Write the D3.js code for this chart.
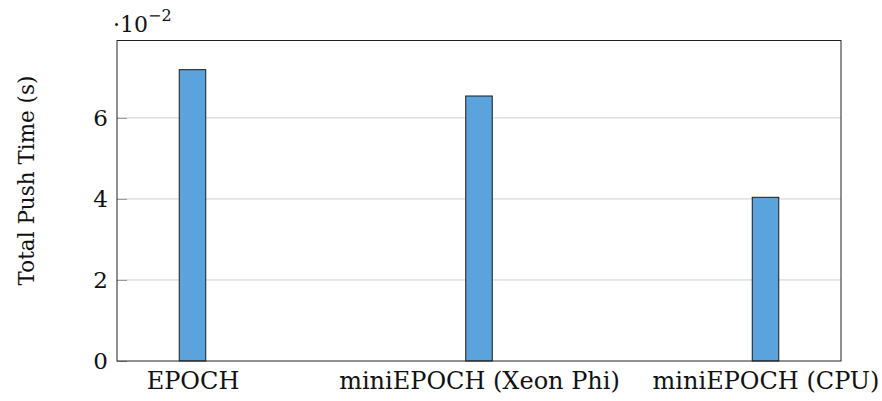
<!DOCTYPE html>
<html><head><meta charset="utf-8">
<script src="https://cdn.jsdelivr.net/npm/d3@7"></script>
<style>body{margin:0;background:#fff}svg{display:block}</style>
</head><body>
<script>
const categories = ["EPOCH", "miniEPOCH (Xeon Phi)", "miniEPOCH (CPU)"];
const values = [0.0719, 0.0654, 0.0404];
const yTicks = [0, 0.02, 0.04, 0.06];
const yTickLabels = ["0", "2", "4", "6"];
const yLabel = "Total Push Time (s)";

const W = 882, H = 401;
const m = {left: 117, right: 41, top: 40.5, bottom: 40};
const font = "'DejaVu Serif', serif";
const svg = d3.select("body").append("svg").attr("width", W).attr("height", H);

const x = d3.scalePoint().domain(categories).range([m.left, W - m.right]).padding(0.2635);
const y = d3.scaleLinear().domain([0, 0.0791]).range([H - m.bottom, m.top]);

// gridlines
svg.append("g").selectAll("line").data(yTicks.filter(d => d > 0)).join("line")
  .attr("x1", m.left).attr("x2", W - m.right)
  .attr("y1", d => y(d)).attr("y2", d => y(d))
  .attr("stroke", "#d0d0d0").attr("stroke-width", 1);

// y axis ticks inside
const ya = svg.append("g").attr("transform", `translate(${m.left},0)`)
  .call(d3.axisLeft(y).tickValues(yTicks).tickFormat((d, i) => yTickLabels[i]).tickSize(-10).tickPadding(9));
ya.select(".domain").remove();
ya.selectAll(".tick line").attr("stroke", "#999");
ya.selectAll(".tick text").attr("font-family", font).attr("font-size", 23).attr("fill", "#111");

// bars
const bw = 26.5;
svg.append("g").selectAll("rect").data(values).join("rect")
  .attr("x", (d, i) => x(categories[i]) - bw / 2)
  .attr("width", bw)
  .attr("y", d => y(d))
  .attr("height", d => y(0) - y(d))
  .attr("fill", "#5ba3dc").attr("stroke", "#1a1a1a").attr("stroke-width", 1);

// frame
svg.append("rect").attr("x", m.left).attr("y", m.top)
  .attr("width", W - m.left - m.right).attr("height", H - m.top - m.bottom)
  .attr("fill", "none").attr("stroke", "#222").attr("stroke-width", 1);

// x labels
const xa = svg.append("g").attr("transform", `translate(0,${H - m.bottom})`)
  .call(d3.axisBottom(x).tickSize(0).tickPadding(11));
xa.select(".domain").remove();
xa.selectAll(".tick text").attr("font-family", font).attr("font-size", 24).attr("fill", "#111");

// y label
svg.append("text").attr("transform", `translate(34,180.5) rotate(-90)`)
  .attr("text-anchor", "middle").attr("font-family", font).attr("font-size", 21.5).attr("fill", "#111")
  .text(yLabel);

// exponent label
const ex = svg.append("text").attr("x", 113).attr("y", 32).attr("font-family", font).attr("font-size", 22).attr("fill", "#111");
ex.append("tspan").text("·10");
ex.append("tspan").attr("dy", -11).attr("font-size", 16).text("−2");
</script>
</body></html>
